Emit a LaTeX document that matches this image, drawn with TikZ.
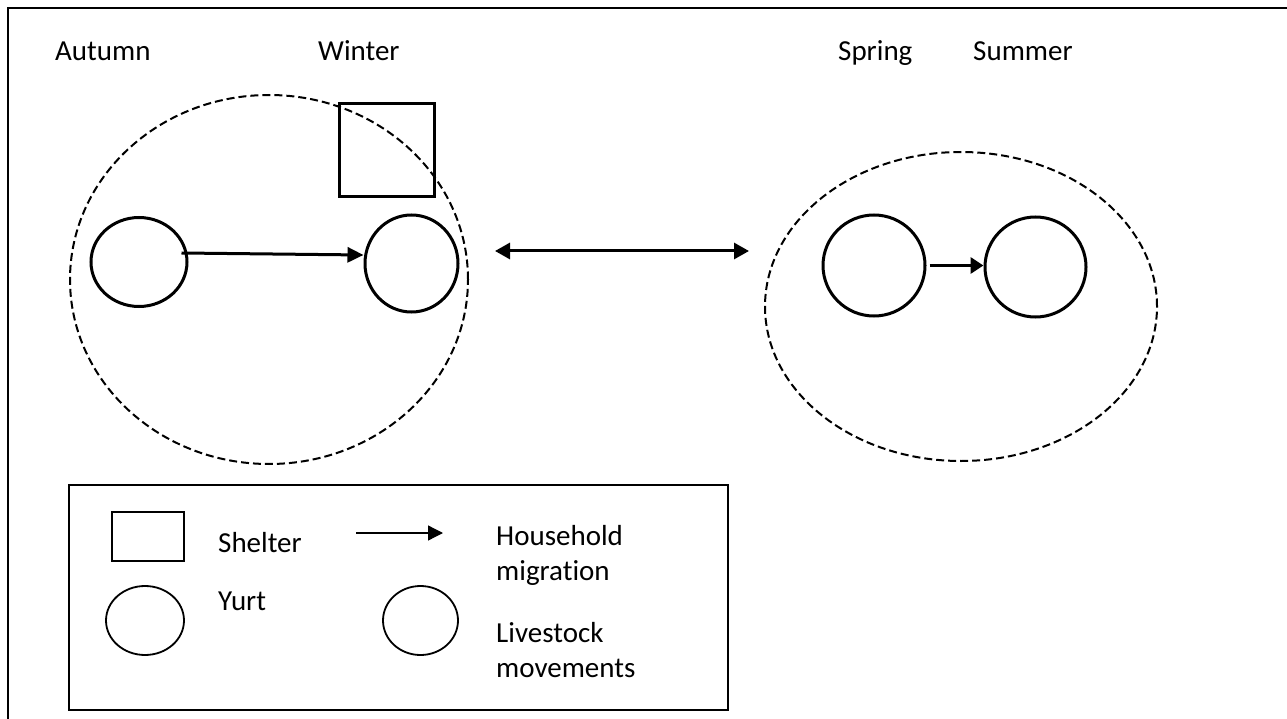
\documentclass[tikz,border=0pt]{standalone}
\usepackage{fontspec}
\setmainfont{Carlito}[Ligatures=NoCommon]
\usetikzlibrary{arrows.meta,shapes.geometric}
\begin{document}
\begin{tikzpicture}[x=1pt,y=-1pt,
  season/.style={anchor=base west,inner sep=0pt,font=\fontsize{29}{35}\selectfont},
  zone/.style={draw,ellipse,dash pattern=on 8pt off 4pt,line width=2pt,inner sep=0pt},
  yurt/.style={draw,ellipse,line width=3pt,inner sep=0pt},
  shelterbox/.style={draw,rectangle,line width=3pt,inner sep=0pt},
  legyurt/.style={draw,ellipse,line width=1.8pt,inner sep=0pt,minimum width=78pt,minimum height=69pt},
  migr/.style={line width=3pt,-{Triangle[length=16pt,width=15pt]}},
]
\useasboundingbox (0,0) rectangle (1287,719);
% outer frame (cut at right and bottom)
\draw[line width=2.5pt] (8,730) -- (8,8) -- (1300,8);

% season labels
\node[season] (autumn) at (55,61) {Autumn};
\node[season] (winter) at (318,61) {Winter};
\node[season] (spring) at (838,61) {Spring};
\node[season] (summer) at (973,61) {Summer};

% zones
\node[zone,minimum width=398pt,minimum height=369pt] (zoneL) at (269,279.5) {};
\node[zone,minimum width=392pt,minimum height=309pt] (zoneR) at (961,306.5) {};

% shelter
\node[shelterbox,minimum width=95pt,minimum height=93pt] (shelter) at (386.5,150.5) {};

% yurts
\node[yurt,minimum width=96pt,minimum height=89pt] (yA) at (139,262) {};
\node[yurt,minimum width=93pt,minimum height=97pt] (yW) at (411.5,263.5) {};
\node[yurt,minimum width=102pt,minimum height=101pt] (yS) at (874,265.5) {};
\node[yurt,minimum width=101pt,minimum height=100pt] (yM) at (1035.5,267) {};

% migration arrows
\draw[migr] ([xshift=-7pt,yshift=9pt]yA.east) -- ([yshift=8.5pt]yW.west);
\draw[line width=3.5pt,-{Triangle[length=13pt,width=16pt]}] ([xshift=3pt]yS.east) -- (yS.east -| yM.west);
\coordinate (dL) at (495,251);
\coordinate (dR) at (749,251);
\draw[line width=3pt,{Triangle[length=15pt,width=16pt]}-{Triangle[length=15pt,width=16pt]}] (dL) -- (dR);

% legend
\node[draw,rectangle,line width=2pt,inner sep=0pt,minimum width=659pt,minimum height=225pt] (legend) at (398.5,597.5) {};
\node[draw,rectangle,line width=2pt,inner sep=0pt,minimum width=72pt,minimum height=49pt] (legshelter) at (148,536.5) {};
\node[season] (tshelter) at (218,552) {Shelter};
\node[legyurt] (legyurt) at (145,620.5) {};
\node[season] (tyurt) at (218,610) {Yurt};
\coordinate (la1) at (356,533);
\coordinate (la2) at (443,533);
\draw[line width=1.3pt,-{Triangle[length=15pt,width=15pt]}] (la1) -- (la2);
\node[season] (thh) at (496,545) {Household};
\node[season] (tmig) at (496,580) {migration};
\node[legyurt,minimum width=75pt] (legstock) at (420.5,620.5) {};
\node[season] (tlive) at (496,642) {Livestock};
\node[season] (tmov) at (496,677) {movements};
\end{tikzpicture}
\end{document}
